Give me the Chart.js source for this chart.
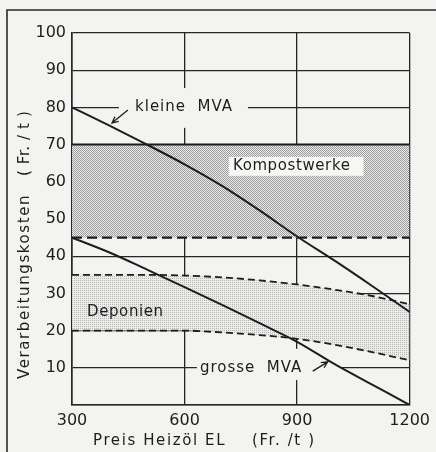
<!DOCTYPE html>
<html><head><meta charset="utf-8">
<script src="https://cdn.jsdelivr.net/npm/chart.js@4.4.1/dist/chart.umd.min.js"></script>
<style>html,body{margin:0;padding:0;background:#f3f3f1;} canvas{display:block;}</style>
</head><body>
<canvas id="c" width="436" height="452"></canvas>
<script>
// ---- data ----
const heizoelPreis   = [300, 400, 500, 600, 700, 800, 900, 1000, 1100, 1200];
const kleineMVA      = [80, 75.1, 70, 64.7, 58.9, 52.3, 45.3, 38.8, 32, 25];
const grosseMVA      = [45, 41, 36.4, 31.7, 26.9, 22, 17, 11, 5.5, 0];
const kompostOben    = [70, 70, 70, 70, 70, 70, 70, 70, 70, 70];
const kompostUnten   = [45, 45, 45, 45, 45, 45, 45, 45, 45, 45];
const deponienOben   = [35, 35, 35, 34.8, 34.3, 33.5, 32.4, 31, 29.3, 27.1];
const deponienUnten  = [20, 20, 20, 20, 19.5, 18.8, 17.8, 16.2, 14.2, 12];
const xTickValues    = [300, 600, 900, 1200];
const yTickValues    = [0, 10, 20, 30, 40, 50, 60, 70, 80, 90, 100];
const xTitle = ['Preis Heizöl EL', '(Fr. /t )'];
const yTitle = ['Verarbeitungskosten', '( Fr. / t )'];

const BG = '#f3f3f1', INK = '#1d1d1d';
const pts = ys => heizoelPreis.map((x, i) => ({x, y: ys[i]}));

function makePattern(size, cells, light, dark) {
  const c = document.createElement('canvas'); c.width = size; c.height = size;
  const g = c.getContext('2d'); g.fillStyle = light; g.fillRect(0, 0, size, size);
  g.fillStyle = dark; cells.forEach(([x, y]) => g.fillRect(x, y, 1, 1));
  return g.createPattern(c, 'repeat');
}
const kompostFill  = makePattern(2, [[0,0],[1,1]], '#ebebe9', '#9c9c9c');
const deponienFill = makePattern(2, [[0,0]], '#ebebe9', '#b8b8b8');

// label annotations (data coordinates)
const labelBoxesBehind = [ {x1:425, x2:769, y1:85.2, y2:74.5}, {x1:633, x2:1019, y1:15.1, y2:6.7} ];
const labelBoxesFront  = [ {x1:718, x2:1077, y1:66.7, y2:61.6} ];
const textLabels = [
  {text:'kleine  MVA', x:468, y:80, ls:'1px'},
  {text:'grosse  MVA', x:641, y:10, ls:'1px'},
  {text:'Kompostwerke', x:729, y:64.2, ls:'0.6px'},
  {text:'Deponien', x:340, y:25, ls:'0.6px'}
];
const arrows = [ {x1:449, y1:79.3, x2:406.5, y2:75.8}, {x1:941.7, y1:9.1, x2:981.6, y2:11.6} ];

const annot = {
  id: 'annot',
  beforeDraw(chart) {
    const ctx = chart.ctx;
    ctx.save(); ctx.fillStyle = BG; ctx.fillRect(0, 0, chart.width, chart.height);
    ctx.strokeStyle = '#2a2a2a'; ctx.lineWidth = 1.6;
    ctx.beginPath(); ctx.moveTo(7, chart.height); ctx.lineTo(7, 10); ctx.lineTo(chart.width, 10); ctx.stroke();
    ctx.restore();
  },
  beforeDatasetsDraw(chart) {
    const {ctx, scales:{x, y}} = chart;
    ctx.save(); ctx.fillStyle = BG;
    labelBoxesBehind.forEach(b => {
      const px1 = x.getPixelForValue(b.x1), px2 = x.getPixelForValue(b.x2);
      const py1 = y.getPixelForValue(b.y1), py2 = y.getPixelForValue(b.y2);
      ctx.fillRect(px1, py1, px2 - px1, py2 - py1);
    });
    ctx.restore();
  },
  afterDatasetsDraw(chart) {
    const {ctx, scales:{x, y}, chartArea} = chart;
    ctx.save();
    ctx.fillStyle = '#f6f6f4';
    labelBoxesFront.forEach(b => {
      const px1 = x.getPixelForValue(b.x1), px2 = x.getPixelForValue(b.x2);
      const py1 = y.getPixelForValue(b.y1), py2 = y.getPixelForValue(b.y2);
      ctx.fillRect(px1, py1, px2 - px1, py2 - py1);
    });
    ctx.fillStyle = INK; ctx.font = '15px "DejaVu Sans"';
    ctx.textAlign = 'left'; ctx.textBaseline = 'middle';
    textLabels.forEach(l => {
      ctx.letterSpacing = l.ls;
      ctx.fillText(l.text, x.getPixelForValue(l.x), y.getPixelForValue(l.y));
    });
    ctx.letterSpacing = '0px';
    ctx.strokeStyle = INK; ctx.lineWidth = 1.3;
    arrows.forEach(a => {
      const x1 = x.getPixelForValue(a.x1), y1 = y.getPixelForValue(a.y1);
      const x2 = x.getPixelForValue(a.x2), y2 = y.getPixelForValue(a.y2);
      const ang = Math.atan2(y2 - y1, x2 - x1), L = 7;
      ctx.beginPath(); ctx.moveTo(x1, y1); ctx.lineTo(x2, y2);
      ctx.moveTo(x2 - L * Math.cos(ang - 0.45), y2 - L * Math.sin(ang - 0.45));
      ctx.lineTo(x2, y2);
      ctx.lineTo(x2 - L * Math.cos(ang + 0.45), y2 - L * Math.sin(ang + 0.45));
      ctx.stroke();
    });
    // axis titles
    ctx.font = '15px "DejaVu Sans"'; ctx.textBaseline = 'alphabetic';
    ctx.letterSpacing = '1.6px';
    ctx.fillText(xTitle[0], chartArea.left + 21, 445);
    ctx.fillText(xTitle[1], chartArea.left + 180, 445);
    ctx.translate(29, 0); ctx.rotate(-Math.PI / 2);
    ctx.fillText(yTitle[0], -379, 0);
    ctx.letterSpacing = '0.6px';
    ctx.fillText(yTitle[1], -176, 0);
    ctx.restore();
  }
};

const lineDs = (label, ys, extra) => Object.assign({
  label, data: pts(ys), borderColor: INK, borderWidth: 2, pointRadius: 0,
  tension: 0, fill: false
}, extra);

new Chart(document.getElementById('c'), {
  type: 'line',
  data: { datasets: [
    lineDs('kleine MVA', kleineMVA, {cubicInterpolationMode: 'monotone'}),
    lineDs('grosse MVA', grosseMVA, {cubicInterpolationMode: 'monotone'}),
    lineDs('Kompostwerke oben', kompostOben, {fill: '+1', backgroundColor: kompostFill, borderWidth: 2}),
    lineDs('Kompostwerke unten', kompostUnten, {borderDash: [10, 5], borderWidth: 2.2}),
    lineDs('Deponien oben', deponienOben, {fill: '+1', backgroundColor: deponienFill, borderDash: [7, 4], borderWidth: 1.8, cubicInterpolationMode: 'monotone'}),
    lineDs('Deponien unten', deponienUnten, {borderDash: [7, 4], borderWidth: 1.8, cubicInterpolationMode: 'monotone'})
  ]},
  options: {
    responsive: false, animation: false, devicePixelRatio: 1,
    layout: { padding: {left: 0, top: 33, right: 26, bottom: 0} },
    plugins: { legend: {display: false}, tooltip: {enabled: false}, filler: {drawTime: 'beforeDatasetsDraw'} },
    scales: {
      x: {
        type: 'linear', min: 300, max: 1200,
        afterBuildTicks: s => { s.ticks = xTickValues.map(v => ({value: v})); },
        afterFit: s => { s.height = 47; },
        grid: {color: '#262626', lineWidth: 1.3, drawTicks: false},
        border: {display: true, color: '#262626', width: 1.6},
        ticks: {padding: 6, color: INK, font: {family: 'DejaVu Sans', size: 16}, maxRotation: 0,
                callback: v => String(v)}
      },
      y: {
        type: 'linear', min: 0, max: 100,
        afterBuildTicks: s => { s.ticks = yTickValues.map(v => ({value: v})); },
        afterFit: s => { s.width = 72; },
        grid: {color: '#262626', lineWidth: 1.3, drawTicks: false},
        border: {display: true, color: '#262626', width: 1.6},
        ticks: {padding: 6, color: INK, font: {family: 'DejaVu Sans', size: 16},
                callback: v => v === 0 ? '' : String(v)}
      }
    }
  },
  plugins: [annot]
});
</script>
</body></html>
